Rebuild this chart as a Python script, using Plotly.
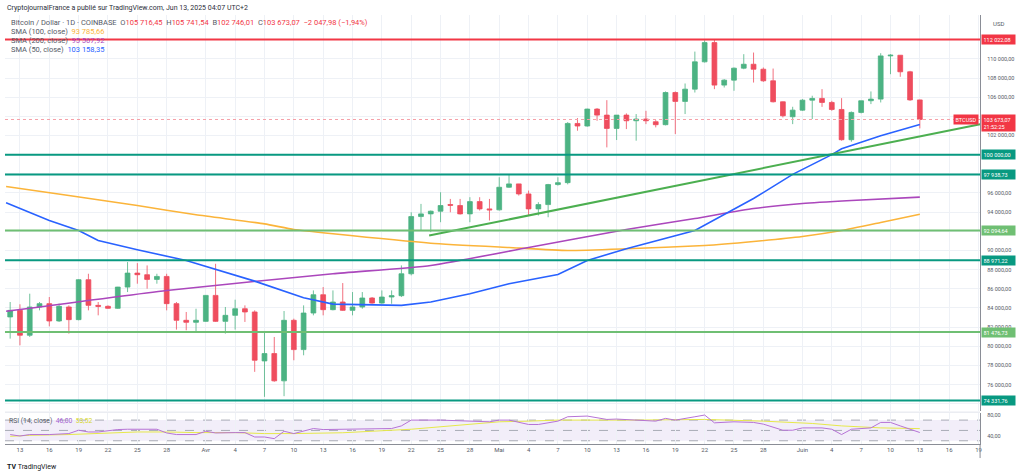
import plotly.graph_objects as go
import pandas as pd

W, H = 1024, 476
def px(x): return x / W
def py(y): return 1 - y / H

# ---------------- data ----------------
dates = pd.date_range('2025-03-12', '2025-06-13', freq='D')

open_ = [83060, 83750, 81150, 84100, 84450, 82640, 84100, 82780, 86950, 84270,
         84170, 83960, 86180, 87640, 87470, 86980, 87290, 84450, 82710, 82500,
         82600, 85310, 82600, 83230, 83920, 83580, 78470, 79240, 76390, 82710,
         79650, 83470, 85380, 83820, 84620, 83750, 84100, 85040, 84510, 85140,
         85280, 87570, 93540, 93820, 94100, 94790, 94690, 93820, 95100, 94340,
         94240, 96600, 96950, 95900, 94340, 94790, 96880, 97080, 103260, 102990,
         104760, 104130, 102740, 104130, 103540, 103720, 103440, 103130, 106490, 105560,
         106840, 109690, 111700, 107260, 107780, 109030, 109440, 108920, 107710, 105520,
         103960, 104650, 105690, 105870, 105450, 104720, 101560, 104410, 105630, 105800,
         110310, 110380, 108650, 105716.45]
high = [84620, 84380, 85490, 84620, 85140, 84450, 84270, 87000, 87570, 84620,
        84270, 86200, 88790, 88680, 88440, 87570, 87570, 84620, 83580, 83920,
        85350, 88610, 84100, 84860, 84270, 83750, 81390, 80970, 83680, 82880,
        84270, 85830, 86180, 85830, 86600, 85660, 85660, 85140, 85830, 85830,
        88440, 93990, 94860, 94170, 96080, 95380, 95380, 95560, 95560, 95380,
        97640, 97920, 96960, 96250, 95040, 96950, 97640, 103400, 103820, 104800,
        104860, 105690, 104130, 104310, 104240, 104580, 103610, 106600, 106600, 107430,
        110760, 111940, 112050, 107880, 109100, 110490, 110660, 109100, 108990, 105550,
        105000, 105800, 106150, 106840, 105620, 105900, 104510, 105630, 106600, 110590,
        110490, 110400, 108750, 105741.54]
low = [80800, 80100, 80970, 83750, 82080, 82540, 81320, 82710, 83750, 83230,
       83920, 83900, 85660, 86530, 86010, 86530, 83750, 81740, 81670, 81390,
       82550, 82540, 81320, 81740, 82540, 77330, 74720, 76300, 74790, 78540,
       79060, 83230, 83230, 83750, 83700, 83230, 83920, 84440, 84440, 84440,
       85140, 87400, 92080, 91910, 92950, 93990, 93750, 92950, 94170, 93130,
       94170, 96530, 95730, 93650, 93650, 93470, 96770, 96900, 102500, 102920,
       103540, 100760, 101530, 102670, 101460, 103190, 102850, 103060, 102150, 104240,
       106490, 109620, 106840, 107010, 106670, 108920, 107530, 107600, 105450, 103890,
       103190, 104580, 103720, 104990, 104580, 101460, 101350, 104310, 105280, 105450,
       108400, 108130, 105620, 102746.01]
close = [83750, 81150, 84100, 84450, 82640, 84170, 82780, 86950, 84270, 84170,
         83960, 86180, 87640, 87470, 86980, 87290, 84450, 82710, 82500, 82710,
         85310, 82600, 83230, 83920, 83580, 78540, 79240, 76390, 82710, 79650,
         83470, 85380, 83820, 84620, 83750, 84100, 85040, 84510, 85140, 85280,
         87570, 93540, 93820, 94100, 94690, 94720, 93820, 95100, 94340, 94240,
         96600, 96950, 95900, 94340, 94790, 96880, 97080, 103260, 102990, 104760,
         104130, 102740, 104130, 103540, 103720, 103540, 103130, 106490, 105560, 106840,
         109690, 111700, 107260, 107780, 109030, 109440, 108920, 107710, 105520, 104060,
         104650, 105690, 105870, 105450, 104720, 101560, 104410, 105630, 105800, 110310,
         110380, 108650, 105716.45, 103673.07]

sma50_dates = ['2025-03-11 14:00', '2025-03-16', '2025-03-19', '2025-03-21', '2025-03-25',
               '2025-03-30', '2025-04-06', '2025-04-11', '2025-04-14', '2025-04-21',
               '2025-04-24', '2025-04-28', '2025-05-02', '2025-05-07', '2025-05-10',
               '2025-05-14', '2025-05-21', '2025-05-27', '2025-05-31', '2025-06-04',
               '2025-06-05', '2025-06-09', '2025-06-13']
sma50_vals = [94970, 93130, 92080, 91040, 90070, 88960, 86800, 85070, 84400, 84270,
              84620, 85490, 86530, 87500, 88960, 90180, 92090, 95420, 97940, 100000,
              100620, 101980, 103158.35]

sma100_dates = ['2025-03-11 14:00', '2025-03-18', '2025-03-25', '2025-03-31', '2025-04-07',
                '2025-04-10', '2025-04-14', '2025-04-24', '2025-05-02', '2025-05-08',
                '2025-05-14', '2025-05-22', '2025-05-27', '2025-06-01', '2025-06-05',
                '2025-06-09', '2025-06-13']
sma100_vals = [96670, 95730, 94690, 93720, 92780, 92190, 91740, 90760, 90310, 90000,
               90180, 90520, 90940, 91460, 92080, 92920, 93785.66]

sma200_dates = ['2025-03-11 14:00', '2025-03-28', '2025-04-14', '2025-04-24', '2025-05-04',
                '2025-05-14', '2025-05-21', '2025-05-27', '2025-06-01', '2025-06-06',
                '2025-06-13']
sma200_vals = [83650, 85830, 87570, 88440, 90310, 92190, 93330, 94380, 94900, 95210,
               95567.92]

trend_dates = ['2025-04-23 20:00', '2025-06-19 04:00']
trend_vals = [91560, 103170]

levels = [112022.08, 100000.00, 97938.73, 92094.64, 88971.22, 81476.73, 74331.76]
level_kind = ['red', 'teal', 'teal', 'green', 'teal', 'green', 'teal']

rsi_dates = ['2025-03-12', '2025-03-13', '2025-03-14', '2025-03-16', '2025-03-18', '2025-03-19',
             '2025-03-20', '2025-03-21', '2025-03-23', '2025-03-24', '2025-03-27', '2025-03-28',
             '2025-03-29', '2025-03-31', '2025-04-01', '2025-04-02', '2025-04-04', '2025-04-05',
             '2025-04-06', '2025-04-07', '2025-04-08', '2025-04-09', '2025-04-10', '2025-04-12',
             '2025-04-13', '2025-04-15', '2025-04-17', '2025-04-20', '2025-04-21', '2025-04-22',
             '2025-04-25', '2025-04-28', '2025-04-30', '2025-05-01', '2025-05-02', '2025-05-04',
             '2025-05-05', '2025-05-07', '2025-05-08', '2025-05-10', '2025-05-12', '2025-05-13',
             '2025-05-15', '2025-05-17', '2025-05-18', '2025-05-19', '2025-05-21', '2025-05-22',
             '2025-05-23', '2025-05-25', '2025-05-27', '2025-05-28', '2025-05-30', '2025-05-31',
             '2025-06-01', '2025-06-03', '2025-06-04', '2025-06-05', '2025-06-06', '2025-06-08',
             '2025-06-09', '2025-06-10', '2025-06-11', '2025-06-12', '2025-06-13']
rsi_vals = [42, 39.2, 42, 42, 43.9, 50.4, 47, 47, 51.7, 52.3, 52.3, 45.1,
            42, 42, 48.4, 45.1, 45.8, 45.8, 37.3, 37.3, 34.1, 48.4, 43.9, 53.7,
            51.7, 52.3, 52.3, 53.7, 58.8, 70, 70, 68, 66.7, 70, 70, 61.5,
            61.5, 68, 76.5, 77.8, 71.3, 72, 70, 68, 73.3, 70, 76.5, 79.8,
            64.7, 66.7, 65.5, 62.2, 50.4, 50.4, 54.9, 54.9, 52.3, 42, 52.3, 54.9,
            65.5, 65.5, 58.8, 52.3, 46.0]

rsi_ma_dates = ['2025-03-12', '2025-03-14', '2025-03-18', '2025-03-21', '2025-03-25', '2025-03-28',
                '2025-03-31', '2025-04-04', '2025-04-07', '2025-04-10', '2025-04-15', '2025-04-22',
                '2025-04-25', '2025-04-28', '2025-05-01', '2025-05-04', '2025-05-07', '2025-05-15',
                '2025-05-19', '2025-05-22', '2025-05-28', '2025-06-02', '2025-06-05', '2025-06-09',
                '2025-06-13']
rsi_ma_vals = [38.6, 40.6, 42, 43.9, 47, 47, 45.8, 45.8, 43.9, 43.9, 45.5, 52.3,
               56.9, 62.2, 66.7, 68, 70, 70, 70, 71.3, 68, 63.5, 58.8, 54.9, 53.52]

x_tick_dates = ['2025-03-13', '2025-03-16', '2025-03-19', '2025-03-22', '2025-03-25', '2025-03-28',
                '2025-04-01', '2025-04-04', '2025-04-07', '2025-04-10', '2025-04-13', '2025-04-16',
                '2025-04-19', '2025-04-22', '2025-04-25', '2025-04-28', '2025-05-01', '2025-05-04',
                '2025-05-07', '2025-05-10', '2025-05-13', '2025-05-16', '2025-05-19', '2025-05-22',
                '2025-05-25', '2025-05-28', '2025-06-01', '2025-06-04', '2025-06-07', '2025-06-10',
                '2025-06-13', '2025-06-16', '2025-06-19']
x_tick_labels = ['13', '16', '19', '22', '25', '28', 'Avr', '4', '7', '10', '13', '16',
                 '19', '22', '25', '28', 'Mai', '4', '7', '10', '13', '16', '19', '22',
                 '25', '28', 'Juin', '4', '7', '10', '13', '16', '19']

price_ticks = list(range(74000, 114000, 2000))
hidden_price_ticks = [74000, 92000, 98000, 100000, 104000, 112000]   # covered by badges

# ---------------- styling ----------------
UP = '#4cb383'
DOWN = '#ef4d5e'
BLUE = '#2962ff'
ORANGE = '#fbb43a'
PURPLE = '#ab47bc'
TEAL = '#089981'
LGREEN = '#6fbf73'
RED = '#f23645'
GRID = '#eef1f6'
TXT = '#555a66'
FONT = 'Roboto'
kind_color = {'red': RED, 'teal': TEAL, 'green': LGREEN}

def fmt(v):
    s = f"{v:,.2f}"
    return s.replace(',', '\u00a0').replace('.', ',')

XD = [px(5), px(982)]
YD_PRICE = [py(411), py(14)]
YD_RSI = [py(444), py(413)]
XR = ['2025-03-11 11:17', '2025-06-19 03:50']

fig = go.Figure()

fig.add_trace(go.Candlestick(
    x=dates, open=open_, high=high, low=low, close=close,
    increasing=dict(line=dict(color=UP, width=0.8), fillcolor=UP),
    decreasing=dict(line=dict(color=DOWN, width=0.8), fillcolor=DOWN),
    whiskerwidth=0, xaxis='x', yaxis='y', showlegend=False, hoverinfo='skip'))

fig.add_trace(go.Scatter(x=sma100_dates, y=sma100_vals, mode='lines',
                         line=dict(color=ORANGE, width=1.6, shape='spline', smoothing=0.5),
                         xaxis='x', yaxis='y', hoverinfo='skip'))
fig.add_trace(go.Scatter(x=sma200_dates, y=sma200_vals, mode='lines',
                         line=dict(color=PURPLE, width=1.6, shape='spline', smoothing=0.5),
                         xaxis='x', yaxis='y', hoverinfo='skip'))
fig.add_trace(go.Scatter(x=sma50_dates, y=sma50_vals, mode='lines',
                         line=dict(color=BLUE, width=1.6),
                         xaxis='x', yaxis='y', hoverinfo='skip'))
fig.add_trace(go.Scatter(x=trend_dates, y=trend_vals, mode='lines',
                         line=dict(color='#4caf50', width=2),
                         xaxis='x', yaxis='y', hoverinfo='skip'))

# RSI pane
fig.add_trace(go.Scatter(x=rsi_ma_dates, y=rsi_ma_vals, mode='lines',
                         line=dict(color='#e6e84a', width=1),
                         xaxis='x2', yaxis='y2', hoverinfo='skip'))
fig.add_trace(go.Scatter(x=rsi_dates, y=rsi_vals, mode='lines',
                         line=dict(color='#b673d6', width=1),
                         xaxis='x2', yaxis='y2', hoverinfo='skip'))

shapes = []
for lv, k in zip(levels, level_kind):
    shapes.append(dict(type='line', xref='paper', yref='y', x0=XD[0], x1=XD[1], y0=lv, y1=lv,
                       line=dict(color=kind_color[k], width=2), layer='above'))
# current price dotted line
shapes.append(dict(type='line', xref='paper', yref='y', x0=XD[0], x1=XD[1],
                   y0=close[-1], y1=close[-1], line=dict(color='#f5a0a8', width=1, dash='dot')))
# RSI band and levels
shapes.append(dict(type='rect', xref='paper', yref='y2', x0=XD[0], x1=XD[1], y0=30, y1=70,
                   fillcolor='rgba(126,87,194,0.10)', line=dict(width=0), layer='below'))
for lv in (70, 50, 30):
    shapes.append(dict(type='line', xref='paper', yref='y2', x0=XD[0], x1=XD[1], y0=lv, y1=lv,
                       line=dict(color='#a8abb5', width=1, dash='dash'), layer='below'))
# axis line extension & pane separator
shapes.append(dict(type='line', xref='paper', yref='paper', x0=px(982), x1=px(982),
                   y0=py(458), y1=py(444), line=dict(color='#8a8d96', width=1)))
shapes.append(dict(type='line', xref='paper', yref='paper', x0=px(5), x1=px(982),
                   y0=py(412), y1=py(412), line=dict(color='#e0e3eb', width=1)))

ann = []
def A(x, y, text, size=6, color=TXT, xanchor='left', **kw):
    d = dict(xref='paper', yref='paper', x=px(x), y=py(y), text=text, showarrow=False,
             xanchor=xanchor, yanchor='middle', font=dict(family=FONT, size=size, color=color))
    d.update(kw)
    ann.append(d)

A(5, 7.5, 'CryptojournalFrance a publié sur TradingView.com, Jun 13, 2025 04:07 UTC+2', size=7, color='#2a2e39')
sp = '\u00a0\u00a0'
row1 = ('Bitcoin / Dollar · 1D · COINBASE' + sp +
        f"O<span style='color:{RED}'>{fmt(open_[-1])}</span>" + sp +
        f"H<span style='color:{RED}'>{fmt(high[-1])}</span>" + sp +
        f"B<span style='color:{RED}'>{fmt(low[-1])}</span>" + sp +
        f"C<span style='color:{RED}'>{fmt(close[-1])}</span>" + sp +
        f"<span style='color:{RED}'>−2\u00a0047,98 (−1,94%)</span>")
LEG = 7.5
A(9, 21.5, row1, size=LEG)
A(9, 30.7, f"SMA (100, close)\u00a0\u00a0<span style='color:{ORANGE}'>{fmt(sma100_vals[-1])}</span>", size=LEG)
A(9, 39.3, f"SMA (200, close)\u00a0\u00a0<span style='color:{PURPLE}'>{fmt(sma200_vals[-1])}</span>", size=LEG)
A(9, 48.3, f"SMA (50, close)\u00a0\u00a0<span style='color:{BLUE}'>{fmt(sma50_vals[-1])}</span>", size=LEG)
A(7, 420.5, "RSI (14, close)\u00a0\u00a0<span style='color:#a35fd0'>" + f"{rsi_vals[-1]:.2f}".replace('.', ',') +
  f"</span>\u00a0\u00a0<span style='color:#d6d62a'>{fmt(rsi_ma_vals[-1])}</span>", size=6.8)
A(993, 22.5, 'USD', size=6)
A(5, 467, '<b>TV</b>\u00a0TradingView', size=7, color='#131722')

# level badges
for lv, k in zip(levels, level_kind):
    ann.append(dict(xref='paper', yref='y', x=px(983), y=lv, text=fmt(lv), showarrow=False,
                    xanchor='left', yanchor='middle', align='left', bgcolor=kind_color[k],
                    borderpad=1.5, width=30,
                    font=dict(family=FONT, size=5.5, color='white')))
# price badges
ann.append(dict(xref='paper', yref='y', x=px(983), y=close[-1], yshift=-3.5,
                text=fmt(close[-1]) + '<br>21:52:25', showarrow=False, xanchor='left',
                yanchor='middle', align='left', bgcolor=RED, borderpad=1.5, width=30,
                font=dict(family=FONT, size=5.5, color='white')))
ann.append(dict(xref='paper', yref='y', x=px(981), y=close[-1], text='BTCUSD', showarrow=False,
                xanchor='right', yanchor='middle', bgcolor=RED, borderpad=1.5,
                font=dict(family=FONT, size=5.5, color='white')))

fig.update_layout(
    width=W, height=H, margin=dict(l=0, r=0, t=0, b=0),
    paper_bgcolor='white', plot_bgcolor='white', showlegend=False,
    font=dict(family=FONT, size=6, color=TXT),
    shapes=shapes, annotations=ann,
    xaxis=dict(domain=XD, anchor='y', type='date', range=XR, rangeslider=dict(visible=False),
               tickvals=x_tick_dates, showticklabels=False, showgrid=True, gridcolor=GRID,
               gridwidth=1, zeroline=False, ticks=''),
    xaxis2=dict(domain=XD, anchor='y2', type='date', range=XR, matches='x',
                tickvals=x_tick_dates, ticktext=x_tick_labels, showgrid=True, gridcolor=GRID,
                showline=True, linecolor='#8a8d96', linewidth=1, ticks='',
                tickfont=dict(family=FONT, size=6, color=TXT)),
    yaxis=dict(domain=YD_PRICE, anchor='x', side='right', range=[73229, 114583],
               tickvals=price_ticks,
               ticktext=['' if v in hidden_price_ticks else fmt(v) for v in price_ticks],
               showgrid=True, gridcolor=GRID, zeroline=False, showline=True,
               linecolor='#8a8d96', linewidth=1, ticks='', ticklabelstandoff=5,
               tickfont=dict(family=FONT, size=5.5, color=TXT)),
    yaxis2=dict(domain=YD_RSI, anchor='x2', side='right', range=[23.6, 83.5],
                tickvals=[40, 80], ticktext=['40,00', '80,00'], showgrid=False,
                zeroline=False, showline=True, linecolor='#8a8d96', linewidth=1, ticks='',
                ticklabelstandoff=5, tickfont=dict(family=FONT, size=5.5, color=TXT)),
)

fig.write_html('out.html')
